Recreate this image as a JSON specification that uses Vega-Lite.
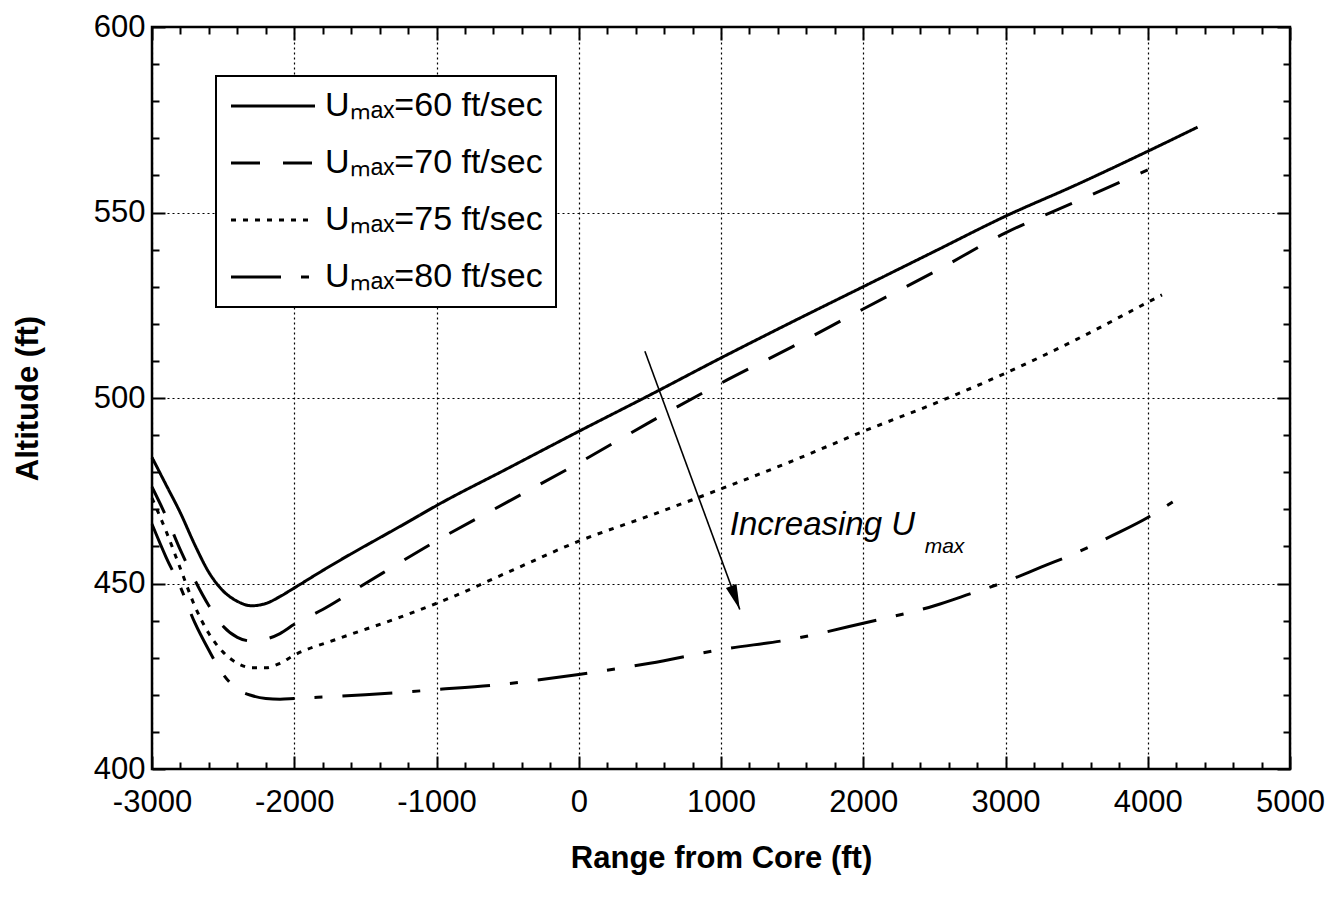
{
  "$schema": "https://vega.github.io/schema/vega-lite/v6.json",
  "width": 1138,
  "height": 742,
  "autosize": {"type": "none"},
  "padding": {"left": 152, "top": 27, "right": 47, "bottom": 134},
  "background": "white",
  "config": {
    "font": "Liberation Sans",
    "view": {"stroke": "black", "strokeWidth": 2.5},
    "legend": {"strokeWidth": 2},
    "axis": {
      "domain": false,
      "tickColor": "black",
      "labelColor": "black",
      "titleColor": "black",
      "labelFont": "Liberation Sans",
      "titleFont": "Liberation Sans",
      "labelFontSize": 31,
      "titleFontSize": 31,
      "titleFontWeight": "bold",
      "labelOverlap": false,
      "labelFlush": false,
      "labelBound": false,
      "gridColor": "black",
      "gridDash": [2, 3],
      "gridWidth": 1.2
    }
  },
  "datasets": {
    "curves": [
      {"s": "60", "range": -3000, "alt": 484}, {"s": "60", "range": -2900, "alt": 476.5}, {"s": "60", "range": -2800, "alt": 469},
      {"s": "60", "range": -2700, "alt": 460.5}, {"s": "60", "range": -2600, "alt": 453}, {"s": "60", "range": -2500, "alt": 448},
      {"s": "60", "range": -2400, "alt": 445.2}, {"s": "60", "range": -2300, "alt": 444}, {"s": "60", "range": -2200, "alt": 444.6},
      {"s": "60", "range": -2100, "alt": 446.5}, {"s": "60", "range": -2000, "alt": 448.8}, {"s": "60", "range": -1800, "alt": 453.5},
      {"s": "60", "range": -1600, "alt": 458}, {"s": "60", "range": -1400, "alt": 462.3}, {"s": "60", "range": -1200, "alt": 466.6},
      {"s": "60", "range": -1000, "alt": 471}, {"s": "60", "range": -500, "alt": 481}, {"s": "60", "range": 0, "alt": 491},
      {"s": "60", "range": 500, "alt": 500.8}, {"s": "60", "range": 1000, "alt": 510.8}, {"s": "60", "range": 1500, "alt": 520.5},
      {"s": "60", "range": 2000, "alt": 530}, {"s": "60", "range": 2500, "alt": 539.5}, {"s": "60", "range": 3000, "alt": 549},
      {"s": "60", "range": 3500, "alt": 557.5}, {"s": "60", "range": 4000, "alt": 566.5}, {"s": "60", "range": 4350, "alt": 573},

      {"s": "70", "range": -3000, "alt": 476}, {"s": "70", "range": -2900, "alt": 468}, {"s": "70", "range": -2800, "alt": 459},
      {"s": "70", "range": -2700, "alt": 451}, {"s": "70", "range": -2600, "alt": 444}, {"s": "70", "range": -2500, "alt": 438.5},
      {"s": "70", "range": -2400, "alt": 435.5}, {"s": "70", "range": -2300, "alt": 434.5}, {"s": "70", "range": -2200, "alt": 435},
      {"s": "70", "range": -2100, "alt": 436.5}, {"s": "70", "range": -2000, "alt": 439}, {"s": "70", "range": -1800, "alt": 443},
      {"s": "70", "range": -1500, "alt": 450}, {"s": "70", "range": -1000, "alt": 461.5}, {"s": "70", "range": -500, "alt": 472},
      {"s": "70", "range": 0, "alt": 482.5}, {"s": "70", "range": 500, "alt": 493.5}, {"s": "70", "range": 1000, "alt": 504},
      {"s": "70", "range": 1500, "alt": 513.8}, {"s": "70", "range": 2000, "alt": 524}, {"s": "70", "range": 2500, "alt": 534},
      {"s": "70", "range": 3000, "alt": 544.5}, {"s": "70", "range": 3500, "alt": 553}, {"s": "70", "range": 4000, "alt": 561.5},

      {"s": "75", "range": -3000, "alt": 473}, {"s": "75", "range": -2900, "alt": 464}, {"s": "75", "range": -2800, "alt": 454},
      {"s": "75", "range": -2700, "alt": 444}, {"s": "75", "range": -2600, "alt": 436.5}, {"s": "75", "range": -2500, "alt": 431.5},
      {"s": "75", "range": -2400, "alt": 428.5}, {"s": "75", "range": -2300, "alt": 427.3}, {"s": "75", "range": -2200, "alt": 427.3},
      {"s": "75", "range": -2100, "alt": 428.5}, {"s": "75", "range": -2000, "alt": 430.7}, {"s": "75", "range": -1700, "alt": 435},
      {"s": "75", "range": -1250, "alt": 441}, {"s": "75", "range": -900, "alt": 446.2}, {"s": "75", "range": -500, "alt": 453},
      {"s": "75", "range": 0, "alt": 461.4}, {"s": "75", "range": 500, "alt": 468.3}, {"s": "75", "range": 1000, "alt": 475.5},
      {"s": "75", "range": 1500, "alt": 483}, {"s": "75", "range": 2000, "alt": 491}, {"s": "75", "range": 2500, "alt": 498.5},
      {"s": "75", "range": 3000, "alt": 506.7}, {"s": "75", "range": 3500, "alt": 515.8}, {"s": "75", "range": 4000, "alt": 525.8},
      {"s": "75", "range": 4100, "alt": 527.8},

      {"s": "80", "range": -3000, "alt": 466}, {"s": "80", "range": -2900, "alt": 457}, {"s": "80", "range": -2800, "alt": 449},
      {"s": "80", "range": -2700, "alt": 439.5}, {"s": "80", "range": -2600, "alt": 432}, {"s": "80", "range": -2500, "alt": 425.5},
      {"s": "80", "range": -2400, "alt": 421.5}, {"s": "80", "range": -2300, "alt": 419.8}, {"s": "80", "range": -2200, "alt": 419},
      {"s": "80", "range": -2100, "alt": 418.8}, {"s": "80", "range": -2000, "alt": 419}, {"s": "80", "range": -1500, "alt": 420},
      {"s": "80", "range": -1000, "alt": 421.4}, {"s": "80", "range": -500, "alt": 423}, {"s": "80", "range": 0, "alt": 425.5},
      {"s": "80", "range": 500, "alt": 428.5}, {"s": "80", "range": 1000, "alt": 432.2}, {"s": "80", "range": 1500, "alt": 435},
      {"s": "80", "range": 2000, "alt": 439.3}, {"s": "80", "range": 2500, "alt": 444}, {"s": "80", "range": 2750, "alt": 447.2},
      {"s": "80", "range": 3000, "alt": 450.5}, {"s": "80", "range": 3250, "alt": 454.4}, {"s": "80", "range": 3500, "alt": 458.3},
      {"s": "80", "range": 3750, "alt": 462.9}, {"s": "80", "range": 4000, "alt": 467.8}, {"s": "80", "range": 4175, "alt": 472}
    ],
    "ann": [
      {"kind": "arrow", "x": 465, "y": 512.6, "x2": 1132, "y2": 443},
      {"kind": "label", "x": 1062, "y": 463, "text": "Increasing U"},
      {"kind": "sub", "x": 2432, "y": 458.3, "text": "max"}
    ]
  },
  "resolve": {"axis": {"x": "independent", "y": "independent"}},
  "layer": [
    {
      "data": {"name": "curves"},
      "mark": {"type": "line", "strokeWidth": 3, "color": "black", "interpolate": "monotone"},
      "encoding": {
        "x": {
          "field": "range", "type": "quantitative",
          "scale": {"domain": [-3000, 5000], "nice": false, "zero": false},
          "axis": {
            "orient": "bottom",
            "values": [-3000,-2800,-2600,-2400,-2200,-2000,-1800,-1600,-1400,-1200,-1000,-800,-600,-400,-200,0,200,400,600,800,1000,1200,1400,1600,1800,2000,2200,2400,2600,2800,3000,3200,3400,3600,3800,4000,4200,4400,4600,4800,5000],
            "labelExpr": "datum.value % 1000 === 0 ? toString(datum.value) : ''",
            "tickSize": {"condition": {"test": "datum.value % 1000 === 0", "value": -13}, "value": -7},
            "tickWidth": 2,
            "labelPadding": 31,
            "grid": true,
            "gridOpacity": {"condition": {"test": "datum.value % 1000 === 0", "value": 1}, "value": 0},
            "title": "Range from Core (ft)",
            "titleBaseline": "middle",
            "titleY": 89
          }
        },
        "y": {
          "field": "alt", "type": "quantitative",
          "scale": {"domain": [400, 600], "nice": false, "zero": false},
          "axis": {
            "orient": "left",
            "values": [400,410,420,430,440,450,460,470,480,490,500,510,520,530,540,550,560,570,580,590,600],
            "labelExpr": "datum.value % 50 === 0 ? toString(datum.value) : ''",
            "tickSize": {"condition": {"test": "datum.value % 50 === 0", "value": -13}, "value": -7},
            "tickWidth": 2,
            "labelPadding": 20,
            "grid": true,
            "gridOpacity": {"condition": {"test": "datum.value % 50 === 0", "value": 1}, "value": 0},
            "title": "Altitude (ft)",
            "titleBaseline": "middle",
            "titleX": -124
          }
        },
        "strokeDash": {
          "field": "s", "type": "nominal",
          "scale": {"domain": ["60", "70", "75", "80"], "range": [[1, 0], [29, 23], [5, 7], [50, 20, 8, 20]]},
          "legend": {
            "orient": "none",
            "legendX": 64,
            "legendY": 49,
            "title": null,
            "labelExpr": "'Uₘₐₓ=' + datum.label + ' ft/sec'",
            "symbolType": "M-3,0H3",
            "symbolSize": 784,
            "symbolStrokeWidth": 3,
            "symbolStrokeColor": "black",
            "symbolFillColor": "transparent",
            "symbolOffset": 27,
            "labelOffset": 35,
            "labelFontSize": 34,
            "labelFont": "Liberation Sans",
            "labelColor": "black",
            "labelLimit": 500,
            "padding": 13,
            "rowPadding": 23,
            "strokeColor": "black",
            "fillColor": "white"
          }
        }
      }
    },
    {
      "data": {"name": "curves"},
      "mark": {"type": "point", "opacity": 0},
      "encoding": {
        "x": {
          "field": "range", "type": "quantitative",
          "axis": {
            "orient": "top",
            "values": [-3000,-2800,-2600,-2400,-2200,-2000,-1800,-1600,-1400,-1200,-1000,-800,-600,-400,-200,0,200,400,600,800,1000,1200,1400,1600,1800,2000,2200,2400,2600,2800,3000,3200,3400,3600,3800,4000,4200,4400,4600,4800,5000],
            "labels": false, "grid": false, "title": null,
            "tickSize": {"condition": {"test": "datum.value % 1000 === 0", "value": -13}, "value": -7},
            "tickWidth": 2
          }
        },
        "y": {
          "field": "alt", "type": "quantitative",
          "axis": {
            "orient": "right",
            "values": [400,410,420,430,440,450,460,470,480,490,500,510,520,530,540,550,560,570,580,590,600],
            "labels": false, "grid": false, "title": null,
            "tickSize": {"condition": {"test": "datum.value % 50 === 0", "value": -13}, "value": -7},
            "tickWidth": 2
          }
        }
      }
    },
    {
      "data": {"name": "ann"},
      "transform": [{"filter": "datum.kind === 'arrow'"}],
      "mark": {"type": "rule", "strokeWidth": 1.6, "color": "black"},
      "encoding": {
        "x": {"field": "x", "type": "quantitative", "axis": null},
        "y": {"field": "y", "type": "quantitative", "axis": null},
        "x2": {"field": "x2"},
        "y2": {"field": "y2"}
      }
    },
    {
      "data": {"name": "ann"},
      "transform": [{"filter": "datum.kind === 'arrow'"}],
      "mark": {"type": "point", "shape": "M0,0L-0.45,-2L0.45,-2Z", "filled": true, "size": 625, "angle": -20, "color": "black", "opacity": 1},
      "encoding": {
        "x": {"field": "x2", "type": "quantitative", "axis": null},
        "y": {"field": "y2", "type": "quantitative", "axis": null}
      }
    },
    {
      "data": {"name": "ann"},
      "transform": [{"filter": "datum.kind === 'label'"}],
      "mark": {"type": "text", "fontSize": 33, "fontStyle": "italic", "font": "Liberation Sans", "align": "left", "baseline": "alphabetic", "color": "black"},
      "encoding": {
        "x": {"field": "x", "type": "quantitative", "axis": null},
        "y": {"field": "y", "type": "quantitative", "axis": null},
        "text": {"field": "text"}
      }
    },
    {
      "data": {"name": "ann"},
      "transform": [{"filter": "datum.kind === 'sub'"}],
      "mark": {"type": "text", "fontSize": 21, "fontStyle": "italic", "font": "Liberation Sans", "align": "left", "baseline": "alphabetic", "color": "black"},
      "encoding": {
        "x": {"field": "x", "type": "quantitative", "axis": null},
        "y": {"field": "y", "type": "quantitative", "axis": null},
        "text": {"field": "text"}
      }
    }
  ]
}
